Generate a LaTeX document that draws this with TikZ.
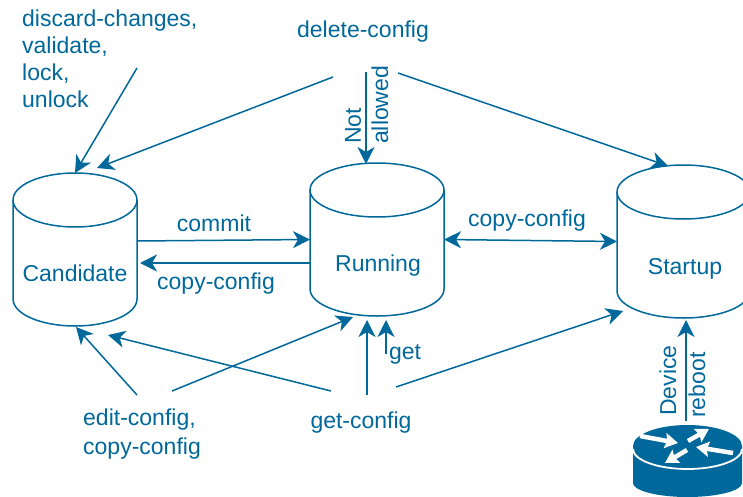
\documentclass[tikz,border=0pt]{standalone}
\usepackage{fontspec}
\setmainfont{Liberation Sans}
\usetikzlibrary{arrows.meta}
\definecolor{netblue}{HTML}{00689A}
\tikzset{
    tip/.tip={Stealth[length=17pt,width=17pt,inset=5pt]},
    conn/.style={draw=netblue,line width=1.5pt,-tip},
    store/.style={rectangle,minimum height=153pt,inner sep=0pt,outer sep=0pt},
    canline/.style={draw=netblue,line width=1.5pt},
    txt/.style={text=netblue,font=\fontsize{23}{27}\selectfont,inner sep=0pt},
    vtxt/.style={txt,rotate=90,anchor=west},
    whitearrow/.style={white,line width=4.5pt,-{Stealth[length=13pt,width=15pt,inset=2pt]}}
}
\begin{document}
\begin{tikzpicture}[x=1pt,y=-1pt]
    \clip (0,0) rectangle (743,497);
    \node[store,minimum width=124pt] (candidate) at (75,249.5) {};
    \node[store,minimum width=134pt] (running) at (377,239.5) {};
    \node[store,minimum width=133pt] (startup) at (683.5,241.5) {};
    \node[store,minimum width=109pt,minimum height=72pt] (router) at (687.5,461) {};
    \foreach \can/\rx in {candidate/62,running/67,startup/66.5}{
        \draw[canline] ([yshift=-27pt]\can.north west) arc[start angle=180,end angle=360,x radius=\rx,y radius=27] -- ([yshift=27pt]\can.south east) arc[start angle=0,end angle=180,x radius=\rx,y radius=27] -- cycle;
        \draw[canline] ([yshift=-27pt]\can.north west) arc[start angle=180,end angle=0,x radius=\rx,y radius=27];
    }
    \fill[netblue] ([yshift=-21pt]router.north west) arc[start angle=180,end angle=360,x radius=54.5,y radius=21] -- ([yshift=14pt]router.south east) arc[start angle=0,end angle=180,x radius=54.5,y radius=14] -- cycle;
    \node[txt] (candidatetxt) at (75,273) {Candidate};
    \node[txt] (runningtxt) at (378,266) {Running};
    \node[txt] (startuptxt) at (685,268.5) {Startup};
    \node[txt,align=left,anchor=north west] (lockops) at (22,9.5) {discard-changes,\\validate,\\lock,\\unlock};
    \node[txt] (deleteconf) at (363,32) {delete-config};
    \node[txt] (committxt) at (214,223.5) {commit};
    \node[txt] (copyback) at (216,284) {copy-config};
    \node[txt] (copyboth) at (527,221) {copy-config};
    \node[txt] (gettxt) at (405,354.5) {get};
    \node[txt,align=left,anchor=north west] (editconf) at (83,409) {edit-config,\\[2pt]copy-config};
    \node[txt] (getconf) at (361,423) {get-config};
    \node[vtxt] (nottxt) at (353,144) {Not};
    \node[vtxt] (allowedtxt) at (380,144) {allowed};
    \node[vtxt] (devicetxt) at (668,416) {Device};
    \node[vtxt] (reboottxt) at (697,418) {reboot};
    \foreach \name/\x/\y in {lockend/137/68,delleft/333/77,deltipc/97/168,delmid/366/72,delright/398/73,deltips/668/166,%
        delrun/366/164,commitend/137/241,copyend/310/263,copytip/140/263,%
        editc/137/395,editctip/76/327,editr/172/391,editrtip/353/317,getc/331/391,getctip/108/335,getr/367/395,getrtip/367/320,%
        getsmall/386/354,getsmalltip/386/320,gets/396/387,getstip/623/311,bootend/686/421,boottip/686/320}
        \coordinate (\name) at (\x,\y);
    \draw[conn] (lockend) -- (candidate.north);
    \draw[conn] (delleft) -- (deltipc);
    \draw[conn] (delmid) -- (delrun);
    \draw[conn] (delright) -- (deltips);
    \draw[conn] (commitend) -- (running.west);
    \draw[conn] (copyend) -- (copytip);
    \draw[conn,tip-tip] (running.east) -- (startup.west);
    \draw[conn] (editc) -- (editctip);
    \draw[conn] (editr) -- (editrtip);
    \draw[conn] (getc) -- (getctip);
    \draw[conn] (getr) -- (getrtip);
    \draw[conn] (getsmall) -- (getsmalltip);
    \draw[conn] (gets) -- (getstip);
    \draw[conn] (bootend) -- (boottip);
    %router
    \draw[white,line width=1.8pt] (633,449) arc[start angle=180,end angle=0,x radius=54.5,y radius=20];
    \draw[whitearrow] (640,436) -- (678,443);
    \draw[whitearrow] (688,441) -- (709,429);
    \draw[whitearrow] (733,453) -- (696,447);
    \draw[whitearrow] (687,450) -- (665,463);
\end{tikzpicture}
\end{document}
